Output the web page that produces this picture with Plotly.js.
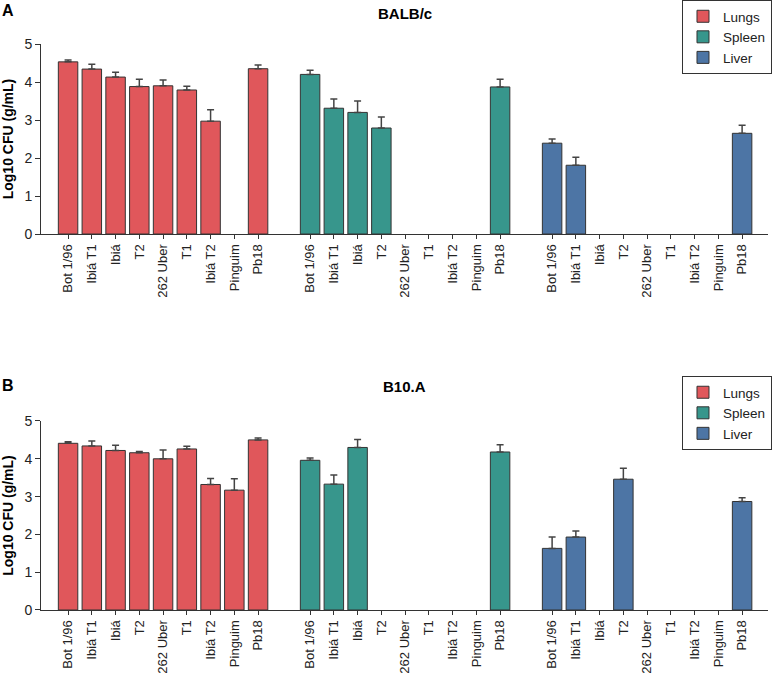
<!DOCTYPE html>
<html>
<head>
<meta charset="utf-8">
<script src="https://cdn.plot.ly/plotly-3.0.1.min.js"></script>
<style>
  body { margin: 0; background: #fff; }
  #plot { width: 773px; height: 675px; }
</style>
</head>
<body>
<div id="plot"></div>
<script>
/* Data */
const strains = ['Bot 1/96', 'Ibiá T1', 'Ibiá', 'T2', '262 Uber', 'T1', 'Ibiá T2', 'Pinguim', 'Pb18'];
const organs = ['Lungs', 'Spleen', 'Liver'];

// A: BALB/c
const balbLungs     = [4.53, 4.34, 4.13, 3.88, 3.90, 3.79, 2.97, null, 4.35];
const balbLungsErr  = [0.05, 0.13, 0.13, 0.19, 0.15, 0.10, 0.30, null, 0.10];
const balbSpleen    = [4.20, 3.31, 3.20, 2.79, null, null, null, null, 3.87];
const balbSpleenErr = [0.11, 0.24, 0.30, 0.29, null, null, null, null, 0.20];
const balbLiver     = [2.39, 1.81, null, null, null, null, null, null, 2.65];
const balbLiverErr  = [0.11, 0.21, null, null, null, null, null, null, 0.21];

// B: B10.A
const b10Lungs      = [4.41, 4.34, 4.22, 4.16, 4.00, 4.26, 3.32, 3.17, 4.50];
const b10LungsErr   = [0.04, 0.13, 0.14, 0.03, 0.23, 0.07, 0.16, 0.30, 0.05];
const b10Spleen     = [3.96, 3.33, 4.30, null, null, null, null, null, 4.18];
const b10SpleenErr  = [0.06, 0.24, 0.21, null, null, null, null, null, 0.19];
const b10Liver      = [1.63, 1.93, null, 3.46, null, null, null, null, 2.87];
const b10LiverErr   = [0.30, 0.16, null, 0.29, null, null, null, null, 0.10];

const colors = ['#E0575B', '#37968C', '#4D75A5'];
const groupStart = [0, 10.19, 20.38];   // gap between organ groups

// positions of the bars on the numeric x axis
function groupX(g) {
    return strains.map((s, i) => groupStart[g] + i);
}

let tickvals = [];
let ticktext = [];
for (let g = 0; g < 3; g++) {
    tickvals = tickvals.concat(groupX(g));
    ticktext = ticktext.concat(strains);
}

function barTrace(g, y, err, xa, ya, legend) {
    return {
        type: 'bar',
        name: organs[g],
        x: groupX(g),
        y: y,
        width: 0.82,
        xaxis: xa,
        yaxis: ya,
        legend: legend,
        marker: {color: colors[g], line: {color: '#333', width: 1}},
        error_y: {
            type: 'data',
            symmetric: false,
            array: err,
            arrayminus: err.map(v => 0),
            color: '#444',
            thickness: 1.5,
            width: 3.5
        }
    };
}

const data = [
    barTrace(0, balbLungs, balbLungsErr, 'x', 'y', 'legend'),
    barTrace(1, balbSpleen, balbSpleenErr, 'x', 'y', 'legend'),
    barTrace(2, balbLiver, balbLiverErr, 'x', 'y', 'legend'),
    barTrace(0, b10Lungs, b10LungsErr, 'x2', 'y2', 'legend2'),
    barTrace(1, b10Spleen, b10SpleenErr, 'x2', 'y2', 'legend2'),
    barTrace(2, b10Liver, b10LiverErr, 'x2', 'y2', 'legend2')
];

const font = {family: 'Arial, "Liberation Sans", sans-serif', size: 14, color: '#222'};

function xAxis(anchor) {
    return {
        anchor: anchor,
        range: [-1.14, 29.47],
        tickmode: 'array',
        tickvals: tickvals,
        ticktext: ticktext,
        tickangle: -90,
        ticks: 'outside',
        ticklen: 4,
        tickcolor: '#333',
        showline: true,
        linecolor: '#333',
        linewidth: 1,
        showgrid: false,
        zeroline: false,
        automargin: false,
        tickfont: {size: 13}
    };
}

function yAxis(anchor, domain) {
    return {
        anchor: anchor,
        domain: domain,
        range: [0, 5],
        dtick: 1,
        ticks: 'outside',
        ticklen: 5,
        tickcolor: '#333',
        showline: true,
        linecolor: '#333',
        linewidth: 1,
        showgrid: false,
        zeroline: false,
        automargin: false,
        tickfont: {size: 14},
        title: {text: '<b>Log10 CFU (g/mL)</b>', font: {size: 14, color: '#000'}, standoff: 7}
    };
}

const legendStyle = {
    xref: 'paper', yref: 'paper',
    x: 1.0055, xanchor: 'right',
    yanchor: 'top',
    bordercolor: '#333', borderwidth: 1,
    bgcolor: '#fff',
    font: {size: 13.5},
    tracegroupgap: 0
};

const layout = {
    width: 773,
    height: 675,
    margin: {l: 41, r: 5, t: 0, b: 0},
    font: font,
    paper_bgcolor: '#fff',
    plot_bgcolor: '#fff',
    bargap: 0,
    xaxis: xAxis('y'),
    yaxis: yAxis('x', [0.6533, 0.9348]),
    xaxis2: xAxis('y2'),
    yaxis2: yAxis('x2', [0.0963, 0.3763]),
    legend: Object.assign({}, legendStyle, {y: 1.0}),
    legend2: Object.assign({}, legendStyle, {y: 0.443}),
    annotations: [
        {text: '<b>A</b>', xref: 'paper', yref: 'paper', x: -0.056, y: 1.0, xanchor: 'left', yanchor: 'top', showarrow: false, font: {size: 16, color: '#000'}},
        {text: '<b>B</b>', xref: 'paper', yref: 'paper', x: -0.056, y: 0.445, xanchor: 'left', yanchor: 'top', showarrow: false, font: {size: 16, color: '#000'}},
        {text: '<b>BALB/c</b>', xref: 'paper', yref: 'paper', x: 0.5, y: 0.995, xanchor: 'center', yanchor: 'top', showarrow: false, font: {size: 15, color: '#000'}},
        {text: '<b>B10.A</b>', xref: 'paper', yref: 'paper', x: 0.5, y: 0.443, xanchor: 'center', yanchor: 'top', showarrow: false, font: {size: 15, color: '#000'}}
    ]
};

Plotly.newPlot('plot', data, layout, {displayModeBar: false, staticPlot: true});
</script>
</body>
</html>
